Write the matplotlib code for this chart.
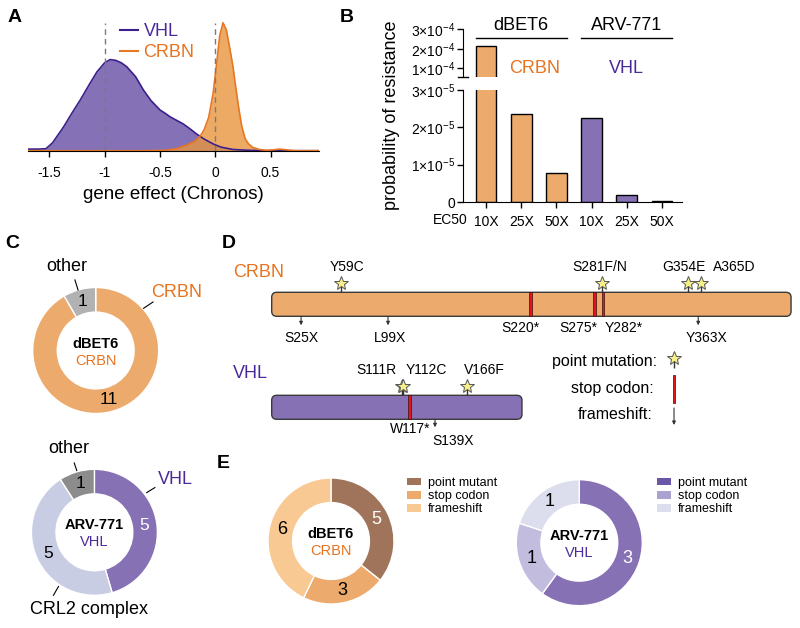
import numpy as np
import matplotlib
matplotlib.use('Agg')
import matplotlib.pyplot as plt
from matplotlib.lines import Line2D
from matplotlib.patches import FancyBboxPatch, Rectangle, Patch
from matplotlib.transforms import blended_transform_factory

plt.rcParams['font.family'] = ['Liberation Sans', 'DejaVu Sans']
plt.rcParams['mathtext.fontset'] = 'custom'
plt.rcParams['mathtext.rm'] = 'Liberation Sans'
plt.rcParams['axes.unicode_minus'] = False

# ---- A: density of gene effect (Chronos)
vhl_x = [-1.69, -1.60, -1.53, -1.47, -1.42, -1.37, -1.30, -1.22, -1.14, -1.07, -1.00, -0.95,
         -0.90, -0.85, -0.80, -0.72, -0.65, -0.58, -0.50, -0.45, -0.41, -0.35, -0.29, -0.23,
         -0.17, -0.10, -0.02, 0.05, 0.16, 0.30, 0.50, 0.94]
vhl_d = [0.04, 0.04, 0.05, 0.20, 0.40, 0.60, 0.92, 1.27, 1.65, 1.97, 2.20, 2.28,
         2.26, 2.20, 2.10, 1.85, 1.52, 1.25, 1.02, 0.93, 0.85, 0.76, 0.67, 0.55,
         0.42, 0.29, 0.17, 0.09, 0.03, 0.01, 0.0, 0.0]
crbn_x = [-1.69, -0.60, -0.45, -0.35, -0.26, -0.19, -0.14, -0.10, -0.06, -0.02, 0.01, 0.04,
          0.07, 0.10, 0.13, 0.16, 0.18, 0.21, 0.24, 0.27, 0.30, 0.34, 0.40, 0.46, 0.52,
          0.58, 0.65, 0.72, 0.94]
crbn_d = [0.0, 0.0, 0.01, 0.05, 0.14, 0.23, 0.35, 0.53, 0.83, 1.43, 2.13, 2.88,
          3.20, 3.02, 2.58, 2.10, 1.68, 1.10, 0.60, 0.30, 0.17, 0.08, 0.03, 0.01, 0.02,
          0.04, 0.02, 0.0, 0.0]

# ---- B: probability of resistance
ec50_labels = ['10X', '25X', '50X', '10X', '25X', '50X']
prob_dbet6 = [2.14e-4, 2.35e-5, 0.77e-5]
prob_arv771 = [2.25e-5, 0.18e-5, 0.035e-5]

# ---- C: resistant clones by gene class
c_dbet6_counts = [11, 1]          # CRBN, other
c_arv_counts = [5, 5, 1]          # VHL, CRL2 complex, other

# ---- D: mutations (residue numbers)
crbn_len, vhl_len = 442, 213
crbn_point = [59, 281, 354, 365]
crbn_point_lab = ['Y59C', 'S281F/N', 'G354E', 'A365D']
crbn_stop = [220, 275, 282]
crbn_stop_lab = ['S220*', 'S275*', 'Y282*']
crbn_fs = [25, 99, 363]
crbn_fs_lab = ['S25X', 'L99X', 'Y363X']
vhl_point = [111, 112, 166]
vhl_point_lab = ['S111R', 'Y112C', 'V166F']
vhl_stop = [117]
vhl_stop_lab = ['W117*']
vhl_fs = [139]
vhl_fs_lab = ['S139X']

# ---- E: mutation types
e_types = ['point mutant', 'stop codon', 'frameshift']
e_dbet6 = [5, 3, 6]
e_arv771 = [3, 1, 1]

# colours
ORANGE_TXT = '#e8731f'
PURPLE_TXT = '#4a2a9a'
ORANGE = '#ecaa6c'
PURPLE = '#8671b5'

W, H = 800, 628
fig = plt.figure(figsize=(8, 6.28), dpi=100)


def box(l, t, r, b):
    return [l / W, 1 - b / H, (r - l) / W, (b - t) / H]


def put(x, y, s, **kw):
    kw.setdefault('ha', 'center')
    kw.setdefault('va', 'center')
    fig.text(x / W, 1 - y / H, s, **kw)


for lab, x, y in [('A', 15, 17), ('B', 347, 17), ('C', 12, 243), ('D', 229, 243), ('E', 223, 464)]:
    put(x, y, lab, fontsize=14, fontweight='bold')

# ================= A
axA = fig.add_axes(box(28.3, 10, 319.3, 150.7))
axA.fill_between(vhl_x, vhl_d, color='#8571b6', lw=0)
axA.plot(vhl_x, vhl_d, color='#3b1f8c', lw=1.2)
axA.fill_between(crbn_x, crbn_d, color='#e8953f', alpha=0.8, lw=0)
axA.plot(crbn_x, crbn_d, color='#e87722', lw=1.2)
axA.vlines([-1, 0], 0, max(crbn_d), colors='#7a7a7a', linestyles=(0, (4, 3)), lw=1, zorder=5)
axA.set_xlim(-1.69, 0.94)
axA.set_ylim(0, 3.52)
for s in ['left', 'top', 'right']:
    axA.spines[s].set_visible(False)
axA.set_yticks([])
axA.set_xticks([-1.5, -1, -0.5, 0, 0.5], ['-1.5', '-1', '-0.5', '0', '0.5'])
axA.tick_params(axis='x', length=4, width=1, labelsize=10, pad=7)
axA.set_xlabel('gene effect (Chronos)', fontsize=13.5, labelpad=4)
leg = axA.legend([Line2D([], [], color='#3b1f8c', lw=1.5), Line2D([], [], color='#e87722', lw=1.5)],
                 ['VHL', 'CRBN'], loc='upper left', bbox_to_anchor=(120 / W, 1 - 23.5 / H),
                 bbox_transform=fig.transFigure, frameon=False, fontsize=13, handlelength=1.0,
                 handletextpad=0.3, labelspacing=0.2, borderpad=0, borderaxespad=0)
leg.get_texts()[0].set_color(PURPLE_TXT)
leg.get_texts()[1].set_color(ORANGE_TXT)

# ================= B
xb = np.arange(len(ec50_labels))
probs = prob_dbet6 + prob_arv771
bar_cols = [ORANGE] * len(prob_dbet6) + [PURPLE] * len(prob_arv771)
axT = fig.add_axes(box(463.3, 29.3, 681.7, 76.7))
axB = fig.add_axes(box(463.3, 90, 681.7, 202))
for ax in (axT, axB):
    ax.bar(xb, probs, width=0.59, color=bar_cols, edgecolor='black', linewidth=1)
    ax.set_xlim(-0.645, 5.56)
    ax.spines['top'].set_visible(False)
    ax.spines['right'].set_visible(False)
    ax.tick_params(length=4, width=1, pad=2)
axT.spines['bottom'].set_visible(False)
axT.set_xticks([])
axT.set_ylim(0.569e-4, 3e-4)
axT.set_yticks([1e-4, 2e-4, 3e-4], [r'1×10$^{-4}$', r'2×10$^{-4}$', r'3×10$^{-4}$'])
axT.tick_params(axis='y', labelsize=10)
axT.plot([-0.025, 0.02], [0, 0], transform=axT.transAxes, color='k', lw=1, clip_on=False)
axB.set_ylim(0, 3e-5)
axB.set_yticks([0, 1e-5, 2e-5, 3e-5], ['0', r'1×10$^{-5}$', r'2×10$^{-5}$', r'3×10$^{-5}$'])
axB.tick_params(axis='y', labelsize=10)
axB.set_xticks(xb, ec50_labels)
axB.tick_params(axis='x', labelsize=10, pad=5)
put(450, 220, 'EC50', fontsize=10)
put(392, 115, 'probability of resistance', fontsize=13, rotation=90)
tr = blended_transform_factory(axT.transData, axT.transAxes)
for name, idx in [('dBET6', [0, 1, 2]), ('ARV-771', [3, 4, 5])]:
    axT.plot([idx[0] - 0.295, idx[-1] + 0.295], [0.81, 0.81], transform=tr, color='k', lw=1, clip_on=False)
    axT.text(np.mean(idx), 1.07, name, transform=tr, ha='center', va='center', fontsize=13)
axT.text(1.39, 0.18, 'CRBN', transform=tr, ha='center', va='center', fontsize=13, color=ORANGE_TXT)
axT.text(4.0, 0.18, 'VHL', transform=tr, ha='center', va='center', fontsize=13, color=PURPLE_TXT)


# ================= donuts (C and E)
def donut(cx, cy, counts, colors, num_colors, title, target, tcol, numsize, r=63, lim=1.3):
    ax = fig.add_axes(box(cx - r * lim, cy - r * lim, cx + r * lim, cy + r * lim))
    wedges, _ = ax.pie(counts, colors=colors, startangle=90, counterclock=False, radius=1,
                       wedgeprops=dict(width=0.39, edgecolor='white', linewidth=1))
    ax.set_xlim(-lim, lim)
    ax.set_ylim(-lim, lim)
    for w, n, c in zip(wedges, counts, num_colors):
        ang = np.deg2rad((w.theta1 + w.theta2) / 2)
        ax.text(0.8 * np.cos(ang), 0.8 * np.sin(ang), str(n), ha='center', va='center',
                fontsize=numsize, color=c)
    ax.text(0, 0.11, title, ha='center', va='center', fontsize=10.5, fontweight='bold')
    ax.text(0, -0.16, target, ha='center', va='center', fontsize=10.5, color=tcol)
    return ax


axC1 = donut(95.7, 350.5, c_dbet6_counts, [ORANGE, '#b2b2b2'], ['k', 'k'],
             'dBET6', 'CRBN', ORANGE_TXT, 12.5)
axC1.text(-0.46, 1.33, 'other', ha='center', va='center', fontsize=13)
axC1.plot([-0.33, -0.28], [1.12, 0.96], color='k', lw=0.8)
axC1.text(1.29, 0.92, 'CRBN', ha='center', va='center', fontsize=13, color=ORANGE_TXT)
axC1.plot([0.76, 0.91], [0.67, 0.77], color='k', lw=0.8)

axC2 = donut(94.4, 532.3, c_arv_counts, [PURPLE, '#c9cde4', '#8c8c8c'], ['white', 'k', 'k'],
             'ARV-771', 'VHL', PURPLE_TXT, 12.5)
axC2.text(-0.41, 1.33, 'other', ha='center', va='center', fontsize=13)
axC2.plot([-0.32, -0.28], [1.10, 0.98], color='k', lw=0.8)
axC2.text(1.29, 0.84, 'VHL', ha='center', va='center', fontsize=13, color=PURPLE_TXT)
axC2.plot([0.83, 0.96], [0.63, 0.71], color='k', lw=0.8)
axC2.text(-0.08, -1.23, 'CRL2 complex', ha='center', va='center', fontsize=13)
axC2.plot([-0.65, -0.57], [-1.0, -0.86], color='k', lw=0.8)

# ================= E
e_cols_dbet6 = ['#a0745a', ORANGE, '#f9c993']
e_cols_arv = [PURPLE, '#c2bcde', '#dcdeee']
e_leg_arv = ['#6a56a6', '#aaa2d0', '#dcdeee']
axE1 = donut(331, 541, e_dbet6, e_cols_dbet6, ['white', 'k', 'k'], 'dBET6', 'CRBN', ORANGE_TXT, 13)
axE2 = donut(579.3, 542.7, e_arv771, e_cols_arv, ['white', 'k', 'k'], 'ARV-771', 'VHL', PURPLE_TXT, 13)
for ax, cols, lx in [(axE1, e_cols_dbet6, 407.3), (axE2, e_leg_arv, 657.3)]:
    ax.legend([Patch(facecolor=c) for c in cols], e_types, loc='upper left',
              bbox_to_anchor=(lx / W, 1 - 477 / H), bbox_transform=fig.transFigure,
              frameon=False, fontsize=9, handlelength=1.07, handleheight=0.56,
              handletextpad=0.6, labelspacing=0.1, borderpad=0, borderaxespad=0)

# ================= D
PX = 1.175            # pixels per residue
X0 = 271.7            # pixel of residue 0
axD = fig.add_axes(box(228, 255, 800, 455))
axD.set_xlim((228 - X0) / PX, (800 - X0) / PX)
axD.set_ylim(455, 255)
axD.axis('off')

label_dx = {'Y59C': 6, 'S281F/N': -2, 'G354E': -4, 'A365D': 34, 'S220*': -10, 'S275*': -16,
            'Y282*': 21, 'Y363X': 8, 'L99X': 2, 'S111R': -26, 'Y112C': 23, 'V166F': 18,
            'W117*': 1, 'S139X': 18}


def star(ax, xs, ys, y_base):
    ax.vlines(xs, ys, y_base, color='#333333', lw=1)
    ax.plot(xs, ys, marker='*', ms=10.5, mfc='#f7f08a', mec='#555555', mew=0.7, ls='none')


def stop(ax, xs, y0, h):
    for p in xs:
        ax.add_patch(Rectangle((p - 1.15, y0), 2.3, h, fc='#e3141b', ec='#3a1010', lw=0.5))


def frameshift(ax, xs, y0, y1):
    for p in xs:
        ax.annotate('', xy=(p, y1), xytext=(p, y0),
                    arrowprops=dict(arrowstyle='-|>', color='#333333', lw=0.8,
                                    mutation_scale=5, shrinkA=0, shrinkB=0))


def protein(ax, length, y_top, color, pts, pt_lab, stops, stop_lab, fss, fs_lab,
            y_star, y_pt_lab, y_stop_lab, y_fs_lab, fs_len):
    h = 24
    ax.add_patch(FancyBboxPatch((0, y_top), length, h, boxstyle='round,pad=0,rounding_size=4.3',
                                mutation_aspect=PX, fc=color, ec='#3a3a3a', lw=1))
    stop(ax, stops, y_top, h)
    star(ax, pts, [y_star] * len(pts), y_top)
    frameshift(ax, fss, y_top + h, y_top + h + fs_len)
    for p, s in zip(pts, pt_lab):
        ax.text(p + label_dx.get(s, 0) / PX, y_pt_lab, s, ha='center', va='center', fontsize=10)
    for p, s in zip(stops, stop_lab):
        ax.text(p + label_dx.get(s, 0) / PX, y_stop_lab, s, ha='center', va='center', fontsize=10)
    for p, s in zip(fss, fs_lab):
        ax.text(p + label_dx.get(s, 0) / PX, y_fs_lab, s, ha='center', va='center', fontsize=10)


protein(axD, crbn_len, 292.3, ORANGE, crbn_point, crbn_point_lab, crbn_stop, crbn_stop_lab,
        crbn_fs, crbn_fs_lab, 282.7, 267, 328.3, 338.3, 9)
protein(axD, vhl_len, 395.3, PURPLE, vhl_point, vhl_point_lab, vhl_stop, vhl_stop_lab,
        vhl_fs, vhl_fs_lab, 386, 370, 429, 441, 8)
axD.text((233 - X0) / PX, 272, 'CRBN', ha='left', va='center', fontsize=13, color=ORANGE_TXT)
axD.text((233 - X0) / PX, 373.3, 'VHL', ha='left', va='center', fontsize=13, color=PURPLE_TXT)

# key
kx = (674 - X0) / PX
axD.text((657 - X0) / PX, 361.7, 'point mutation:', ha='right', va='center', fontsize=11.5)
axD.text((654 - X0) / PX, 388.3, 'stop codon:', ha='right', va='center', fontsize=11.5)
axD.text((653 - X0) / PX, 414, 'frameshift:', ha='right', va='center', fontsize=11.5)
star(axD, [kx], [358.3], 368)
stop(axD, [kx], 375, 28)
frameshift(axD, [kx], 408, 425)

fig.savefig('out.png', dpi=100)
